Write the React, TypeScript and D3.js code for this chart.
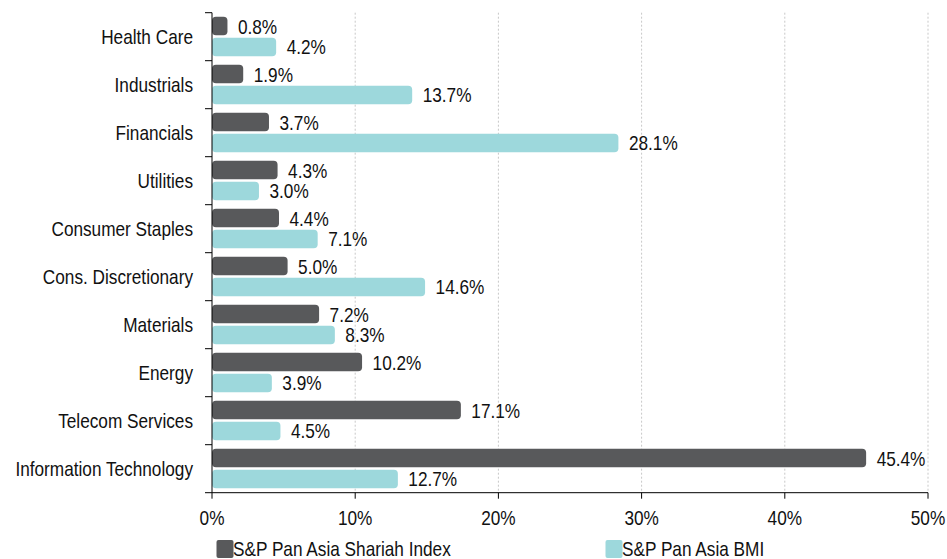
import React from "react";
import * as d3 from "d3";

const categories = [
  "Health Care",
  "Industrials",
  "Financials",
  "Utilities",
  "Consumer Staples",
  "Cons. Discretionary",
  "Materials",
  "Energy",
  "Telecom Services",
  "Information Technology",
];
const shariah = [0.8, 1.9, 3.7, 4.3, 4.4, 5.0, 7.2, 10.2, 17.1, 45.4];
const bmi = [4.2, 13.7, 28.1, 3.0, 7.1, 14.6, 8.3, 3.9, 4.5, 12.7];
const xTicks = [0, 10, 20, 30, 40, 50];
const seriesNames = ["S&P Pan Asia Shariah Index", "S&P Pan Asia BMI"];
const colors = ["#58595b", "#9dd8dc"];

const W = 947;
const H = 559;
const FONT = "'Liberation Sans', Arial, sans-serif";
const FS = 21;
const SX = 0.82;

function T({
  x,
  y,
  anchor = "start",
  children,
}: {
  x: number;
  y: number;
  anchor?: string;
  children: React.ReactNode;
}) {
  return (
    <text
      transform={`translate(${x},${y}) scale(${SX},1)`}
      textAnchor={anchor}
      dominantBaseline="central"
      fontSize={FS}
      fill="#111"
    >
      {children}
    </text>
  );
}

export default function App() {
  const left = 212;
  const right = 928;
  const top = 12.7;
  const bottom = 492.7;
  const x = d3.scaleLinear().domain([0, 50]).range([left, right]);
  const y = d3.scaleBand().domain(categories).range([top, bottom]);
  const band = y.bandwidth();
  const barH = 18.5;
  const ext = 4;

  return (
    <svg
      width={W}
      height={H}
      style={{ position: "absolute", left: 0, top: 0, fontFamily: FONT }}
    >
      <rect width={W} height={H} fill="#fff" />
      {xTicks.slice(1).map((t) => (
        <line
          key={t}
          x1={x(t)}
          x2={x(t)}
          y1={top}
          y2={bottom}
          stroke="#c8c8c8"
          strokeWidth={1}
          strokeDasharray="2,2"
        />
      ))}
      {categories.map((c, i) => {
        const y0 = y(c)!;
        const cy = y0 + band / 2;
        const b1 = cy - barH - 1.5;
        const b2 = cy + 1;
        const e1 = x(shariah[i]) + ext;
        const e2 = x(bmi[i]) + ext;
        return (
          <g key={c}>
            <rect x={x(0)} y={b1} width={e1 - x(0)} height={barH} rx={4} fill={colors[0]} />
            <rect x={x(0)} y={b2} width={e2 - x(0)} height={barH} rx={4} fill={colors[1]} />
            <T x={e1 + 10.5} y={b1 + barH / 2 + 1}>
              {shariah[i].toFixed(1) + "%"}
            </T>
            <T x={e2 + 10.5} y={b2 + barH / 2}>
              {bmi[i].toFixed(1) + "%"}
            </T>
            <T x={193} y={cy} anchor="end">
              {c}
            </T>
          </g>
        );
      })}
      {/* y axis */}
      <line x1={left} x2={left} y1={top} y2={bottom} stroke="#000" />
      {d3.range(categories.length + 1).map((i) => {
        const yy = top + i * band;
        return <line key={i} x1={left - 7} x2={left} y1={yy} y2={yy} stroke="#000" />;
      })}
      {/* x axis */}
      <line x1={left} x2={right} y1={bottom} y2={bottom} stroke="#000" />
      {xTicks.map((t) => (
        <g key={t}>
          <line x1={x(t)} x2={x(t)} y1={bottom} y2={bottom + 6} stroke="#000" />
          <T x={x(t)} y={518} anchor="middle">
            {t + "%"}
          </T>
        </g>
      ))}
      {/* legend */}
      {seriesNames.map((n, i) => {
        const lx = i === 0 ? 216.5 : 605.5;
        return (
          <g key={n}>
            <rect x={lx} y={540} width={17} height={18} rx={2} fill={colors[i]} />
            <T x={lx + 16.5} y={549}>
              {n}
            </T>
          </g>
        );
      })}
    </svg>
  );
}
